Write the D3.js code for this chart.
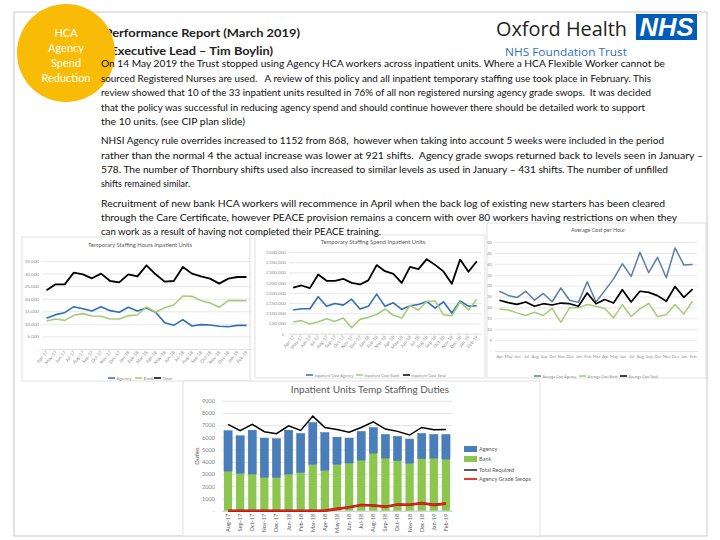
<!DOCTYPE html>
<html><head><meta charset="utf-8">
<script src="https://cdn.jsdelivr.net/npm/d3@7"></script>
<style>body{margin:0;background:#fff}svg{display:block}.pre{white-space:pre}</style>
</head><body><svg id="c" width="720" height="540"></svg>
<script>
// ---------------- DATA ----------------
const months23 = ["Apr-17","May-17","Jun-17","Jul-17","Aug-17","Sep-17","Oct-17","Nov-17","Dec-17","Jan-18","Feb-18","Mar-18","Apr-18","May-18","Jun-18","Jul-18","Aug-18","Sep-18","Oct-18","Nov-18","Dec-18","Jan-19","Feb-19"];
const monthsShort = ["Apr","May","Jun","Jul","Aug","Sep","Oct","Nov","Dec","Jan","Feb","Mar","Apr","May","Jun","Jul","Aug","Sep","Oct","Nov","Dec","Jan","Feb"];
// Temporary Staffing Hours Inpatient Units
const hoursAgency = [12200,13660,14450,16840,16040,15120,16840,15250,14590,16580,15120,16310,14590,10480,9410,11670,9150,9680,9550,9020,8880,9410,9410];
const hoursBank   = [11140,11930,11400,13390,14060,13130,13000,11930,11930,13260,13530,16710,14720,16440,17500,21080,20950,19230,18300,16580,19230,19230,19230];
const hoursTotal  = [23340,25720,25720,30370,29700,28110,29970,27050,26520,29700,28910,33280,29700,26790,27050,32620,29970,28910,27980,25990,27980,28640,28640];
const hoursTicks  = [0,5000,10000,15000,20000,25000,30000,35000];
// Temporary Staffing Spend Inpatient Units
const spendAgency = [116000,122000,122000,181000,134000,148000,140000,169000,121000,134000,194000,134000,151000,119000,137000,143000,158000,125000,156000,101000,160000,135000,137000];
const spendBank   = [57000,64000,47000,59000,73000,60000,77000,29000,70000,80000,94000,121000,90000,77000,138000,116000,158000,161000,93000,88000,155000,116000,169000];
const spendTotal  = [226000,236000,223000,290000,259000,259000,269000,249000,241000,261000,336000,306000,293000,249000,327000,316000,365000,337000,305000,244000,363000,303000,355000];
const spendTicks  = [0,50000,100000,150000,200000,250000,300000,350000,400000];
// Average Cost per Hour
const costAgency = [27.4,25.5,24.5,27.4,23.3,26.4,22.6,28.9,23.3,22.3,31.8,22.5,27.7,33.1,40.0,34.2,45.3,35.9,43.0,33.6,47.3,39.5,39.7];
const costBank   = [19.3,18.8,17.5,16.3,17.8,16.3,19.6,13.1,19.9,19.8,21.3,20.5,19.5,15.2,21.3,15.8,19.3,21.9,15.8,16.6,21.3,17.0,22.8];
const costTotal  = [23.3,22.2,21.4,22.5,20.5,21.7,21.1,22.0,21.7,20.5,26.6,21.7,23.6,22.0,28.1,22.5,27.4,26.9,25.4,22.8,29.6,24.6,28.4];
const costTicks  = [0,5,10,15,20,25,30,35,40,45,50];
// Inpatient Units Temp Staffing Duties
const dutyMonths = ["Aug-17","Sep-17","Oct-17","Nov-17","Dec-17","Jan-18","Feb-18","Mar-18","Apr-18","May-18","Jun-18","Jul-18","Aug-18","Sep-18","Oct-18","Nov-18","Dec-18","Jan-19","Feb-19"];
const dutyBank   = [3240,3050,3000,2720,2720,3000,3110,3790,3300,3790,3900,4140,4710,4300,4090,3870,4250,4280,4220];
const dutyAgency = [3310,3080,3590,3220,3170,3590,3210,3430,3100,2230,2040,2350,2100,1940,1990,1990,2070,1960,2020];
const dutyTotalRequired = [7060,6540,7060,6460,6300,6950,6570,7740,6810,6650,6430,6810,7270,6680,6490,6190,6810,6620,6650];
const dutyGradeSwops = [0,0,0,0,0,0,0,0,10,150,280,470,420,330,500,490,620,480,578];
const dutyTicks = [0,1000,2000,3000,4000,5000,6000,7000,8000,9000];

// ---------------- TEXT ----------------
const circleLines = ["HCA","Agency","Spend","Reduction"];
const titleLines = ["(Performance Report (March 2019)","(Executive Lead \u2013 Tim Boylin)"];
const bodyLines = [
 "On 14 May 2019 the Trust stopped using Agency HCA workers across inpatient units. Where a HCA Flexible Worker cannot be",
 "sourced Registered Nurses are used.   A review of this policy and all inpatient temporary staffing use took place in February. This",
 "review showed that 10 of the 33 inpatient units resulted in 76% of all non registered nursing agency grade swops.  It was decided",
 "that the policy was successful in reducing agency spend and should continue however there should be detailed work to support",
 "the 10 units. (see CIP plan slide)",
 "NHSI Agency rule overrides increased to 1152 from 868,  however when taking into account 5 weeks were included in the period",
 "rather than the normal 4 the actual increase was lower at 921 shifts.  Agency grade swops returned back to levels seen in January \u2013",
 "578. The number of Thornbury shifts used also increased to similar levels as used in January \u2013 431 shifts. The number of unfilled",
 "shifts remained similar.",
 "Recruitment of new bank HCA workers will recommence in April when the back log of existing new starters has been cleared",
 "through the Care Certificate, however PEACE provision remains a concern with over 80 workers having restrictions on when they",
 "can work as a result of having not completed their PEACE training."
];

// ---------------- LAYOUT ----------------
const bodyLayout = [[64,564],[79,550],[93,550],[108,544],[122,144],[141,563],[156,602],[170,567],[184,89],[204,564],[218,576],[232,280]];
const svg = d3.select("#c");
const FONT = "Lato, 'Open Sans', sans-serif";
const BLUE = "#2f6fb3", GREEN = "#a6cc7a", BLACK = "#000";

// frame
svg.append("rect").attr("x",14).attr("y",12).attr("width",693).attr("height",524)
  .attr("fill","none").attr("stroke","#c8c8c8").attr("stroke-width",1);

// chart boxes
const boxes = [[22,237,228,144],[255,235,230,143],[487,223,219,155],[183,381,357,155]];
boxes.forEach(b=>svg.append("rect").attr("x",b[0]).attr("y",b[1]).attr("width",b[2]).attr("height",b[3])
  .attr("fill","#fff").attr("stroke","#d9d9d9").attr("stroke-width",0.8));

// titles (behind circle)
svg.append("text").attr("x",101).attr("y",37).attr("font-family",FONT).attr("font-weight",700)
  .attr("font-size",12).attr("fill","#222").attr("textLength",199).attr("lengthAdjust","spacingAndGlyphs").text(titleLines[0]);
svg.append("text").attr("x",107).attr("y",55).attr("font-family",FONT).attr("font-weight",700)
  .attr("font-size",12).attr("fill","#222").attr("textLength",166).attr("lengthAdjust","spacingAndGlyphs").text(titleLines[1]);

// circle
svg.append("circle").attr("cx",66).attr("cy",53).attr("r",49).attr("fill","#f9bc06");
circleLines.forEach((t,i)=>{
  svg.append("text").attr("x",66).attr("y",37+i*15).attr("text-anchor","middle")
    .attr("font-family",FONT).attr("font-size",11).attr("fill","#fff").text(t);
});

// logo
svg.append("text").attr("x",496).attr("y",36).attr("font-family","'Open Sans', sans-serif")
  .attr("font-size",20).attr("fill","#231f20").attr("textLength",131).attr("lengthAdjust","spacingAndGlyphs").text("Oxford Health");
svg.append("rect").attr("x",636).attr("y",14).attr("width",61).attr("height",26).attr("fill","#005eb8");
svg.append("text").attr("x",666.5).attr("y",36).attr("text-anchor","middle").attr("font-family","'Liberation Sans', Arial, sans-serif")
  .attr("font-weight",700).attr("font-style","italic").attr("font-size",25).attr("fill","#fff")
  .attr("textLength",54).attr("lengthAdjust","spacingAndGlyphs").text("NHS");
svg.append("text").attr("x",505).attr("y",56).attr("font-family","'Open Sans', sans-serif")
  .attr("font-size",11.5).attr("fill","#2f72b8").attr("textLength",122).attr("lengthAdjust","spacingAndGlyphs").text("NHS Foundation Trust");

// body text (drawn above chart boxes)
bodyLines.forEach((t,i)=>{
  svg.append("text").attr("class","pre").attr("x",101).attr("y",bodyLayout[i][0]+3).attr("font-family",FONT)
    .attr("font-size",9.3).attr("fill","#111").attr("textLength",bodyLayout[i][1]).attr("lengthAdjust","spacingAndGlyphs").text(t);
});

// ---------- small line chart helper ----------
function lineChart(o){
  const g = svg.append("g");
  const x = d3.scalePoint().domain(o.cats.map((d,i)=>i)).range([o.x0,o.x1]).padding(0.5);
  const y = d3.scaleLinear().domain([0,o.max]).range([o.yb,o.yt]);
  g.append("g").attr("transform",`translate(${o.x0},0)`)
    .call(d3.axisLeft(y).tickValues(o.ticks).tickSize(-(o.x1-o.x0)).tickFormat(o.fmt))
    .call(a=>a.select(".domain").remove())
    .call(a=>a.selectAll(".tick line").attr("stroke","#d9d9d9").attr("stroke-width",0.6))
    .call(a=>a.selectAll(".tick text").attr("font-family",FONT).attr("font-size",o.fs).attr("fill","#8c8c8c").attr("x",-3));
  const xa = g.append("g").attr("transform",`translate(0,${o.yb})`)
    .call(d3.axisBottom(x).tickSize(0).tickFormat(i=>o.cats[i]));
  xa.select(".domain").attr("stroke","#d9d9d9").attr("stroke-width",0.6);
  xa.selectAll(".tick text").attr("font-family",FONT).attr("font-size",o.fs).attr("fill","#8c8c8c");
  if(o.rotate){
    xa.selectAll(".tick text").attr("text-anchor","end").attr("dy",0).attr("y",3)
      .attr("transform","rotate(-50) translate(-2,0)");
  } else {
    xa.selectAll(".tick text").attr("y",4);
  }
  const line = d3.line().x((d,i)=>x(i)).y(d=>y(d));
  o.series.forEach(s=>{
    g.append("path").datum(s.values).attr("d",line).attr("fill","none")
      .attr("stroke",s.color).attr("stroke-width",s.w).attr("stroke-linejoin","round");
  });
  g.append("text").attr("x",o.tx).attr("y",o.ty).attr("text-anchor","middle").attr("font-family",FONT)
    .attr("font-size",o.tfs).attr("fill","#595959").text(o.title);
  o.series.forEach((s,i)=>{
    const lx = o.legX[i];
    g.append("line").attr("x1",lx).attr("x2",lx+7).attr("y1",o.legY).attr("y2",o.legY).attr("stroke",s.color).attr("stroke-width",1.5);
    g.append("text").attr("x",lx+8.5).attr("y",o.legY+1.5).attr("font-family",FONT).attr("font-size",o.lfs)
      .attr("fill","#8c8c8c").text(s.name);
  });
}

const fmtHours = d=> d===0 ? "-" : d3.format(",")(d);
lineChart({cats:months23,x0:42,x1:251,yt:261,yb:349,max:35000,ticks:hoursTicks,fmt:fmtHours,fs:4.6,lfs:4.6,rotate:true,
  series:[{name:"Agency",values:hoursAgency,color:BLUE,w:1.6},{name:"Bank",values:hoursBank,color:GREEN,w:1.6},{name:"Total",values:hoursTotal,color:BLACK,w:1.8}],
  title:"Temporary Staffing Hours Inpatient Units",tx:140,ty:247,tfs:5.8,legX:[108,135,154],legY:378});

const fmtSpend = d=> d===0 ? "£-" : "£"+d3.format(",")(d);
lineChart({cats:months23,x0:289,x1:481,yt:252,yb:333.7,max:400000,ticks:spendTicks,fmt:fmtSpend,fs:4.6,lfs:4.0,rotate:true,
  series:[{name:"Inpatient Cost Agency",values:spendAgency,color:BLUE,w:1.6},{name:"Inpatient Cost Bank",values:spendBank,color:GREEN,w:1.6},{name:"Inpatient Cost Total",values:spendTotal,color:BLACK,w:1.8}],
  title:"Temporary Staffing Spend Inpatient Units",tx:373,ty:244,tfs:5.8,legX:[306,356,403],legY:375});

const fmtCost = d=> d===0 ? "-" : String(d);
lineChart({cats:monthsShort,x0:495,x1:697,yt:242,yb:351,max:50,ticks:costTicks,fmt:fmtCost,fs:4.2,lfs:3.6,rotate:false,
  series:[{name:"Average Cost Agency",values:costAgency,color:"#5a7fa6",w:1.5},{name:"Average Cost Bank",values:costBank,color:GREEN,w:1.5},{name:"Average Cost Total",values:costTotal,color:BLACK,w:1.7}],
  title:"Average Cost per Hour",tx:598,ty:232,tfs:5.4,legX:[534,579,620],legY:376});

// ---------- bottom stacked bar chart ----------
(function(){
  const g = svg.append("g");
  const x0=222, x1=452, yb=510.7, yt=400.7;
  const x = d3.scaleBand().domain(dutyMonths).range([x0,x1]).paddingInner(0.32).paddingOuter(0.16);
  const y = d3.scaleLinear().domain([0,9000]).range([yb,yt]);
  g.append("g").attr("transform",`translate(${x0},0)`)
    .call(d3.axisLeft(y).tickValues(dutyTicks).tickSize(-(x1-x0)).tickFormat(d=>d===0?"-":d))
    .call(a=>a.select(".domain").remove())
    .call(a=>a.selectAll(".tick line").attr("stroke","#d9d9d9").attr("stroke-width",0.7))
    .call(a=>a.selectAll(".tick text").attr("font-family",FONT).attr("font-size",5.6).attr("fill","#7f7f7f").attr("x",-7));
  const xa = g.append("g").attr("transform",`translate(0,${yb})`).call(d3.axisBottom(x).tickSize(0));
  xa.select(".domain").attr("stroke","#bfbfbf").attr("stroke-width",0.7);
  xa.selectAll(".tick text").attr("font-family",FONT).attr("font-size",5.6).attr("fill","#595959")
    .attr("text-anchor","end").attr("dy","0.35em").attr("y",0).attr("x",-3).attr("transform","rotate(-90)");
  const stackData = dutyMonths.map((m,i)=>({m, bank:dutyBank[i], agency:dutyAgency[i]}));
  const stack = d3.stack().keys(["bank","agency"])(stackData);
  const cols = {bank:"#8cc64e", agency:"#4a7ebb"};
  stack.forEach(layer=>{
    g.append("g").selectAll("rect").data(layer).join("rect")
      .attr("x",d=>x(d.data.m)).attr("width",x.bandwidth())
      .attr("y",d=>y(d[1])).attr("height",d=>y(d[0])-y(d[1]))
      .attr("fill",cols[layer.key]).attr("stroke",layer.key==="agency"?"#3b6aa3":"none").attr("stroke-width",0.4);
  });
  const line = d3.line().x((d,i)=>x(dutyMonths[i])+x.bandwidth()/2).y(d=>y(d));
  g.append("path").datum(dutyTotalRequired).attr("d",line).attr("fill","none").attr("stroke","#000").attr("stroke-width",1.5);
  g.append("path").datum(dutyGradeSwops).attr("d",line).attr("fill","none").attr("stroke","#8b1a10").attr("stroke-width",2.6);
  g.append("path").datum(dutyGradeSwops).attr("d",line).attr("fill","none").attr("stroke","#e8231b").attr("stroke-width",1.6);
  g.append("text").attr("x",370).attr("y",393).attr("text-anchor","middle").attr("font-family",FONT)
    .attr("font-size",10).attr("fill","#595959").text("Inpatient Units Temp Staffing Duties");
  g.append("text").attr("transform","translate(199,456) rotate(-90)").attr("text-anchor","middle")
    .attr("font-family",FONT).attr("font-size",6).attr("fill","#595959").text("Duties");
  const leg = [{n:"Agency",t:"rect",c:"#4a7ebb",y:449},{n:"Bank",t:"rect",c:"#8cc64e",y:459},{n:"Total Required",t:"line",c:"#000",y:470},{n:"Agency Grade Swops",t:"line",c:"#e8231b",y:479}];
  leg.forEach(l=>{
    if(l.t==="rect") g.append("rect").attr("x",464).attr("y",l.y-3).attr("width",13).attr("height",6).attr("fill",l.c);
    else g.append("line").attr("x1",464).attr("x2",477).attr("y1",l.y).attr("y2",l.y).attr("stroke",l.c).attr("stroke-width",l.c==="#000"?1.3:1.8);
    g.append("text").attr("x",479).attr("y",l.y+2).attr("font-family",FONT).attr("font-size",5.6).attr("fill","#595959").text(l.n);
  });
})();
</script></body></html>
